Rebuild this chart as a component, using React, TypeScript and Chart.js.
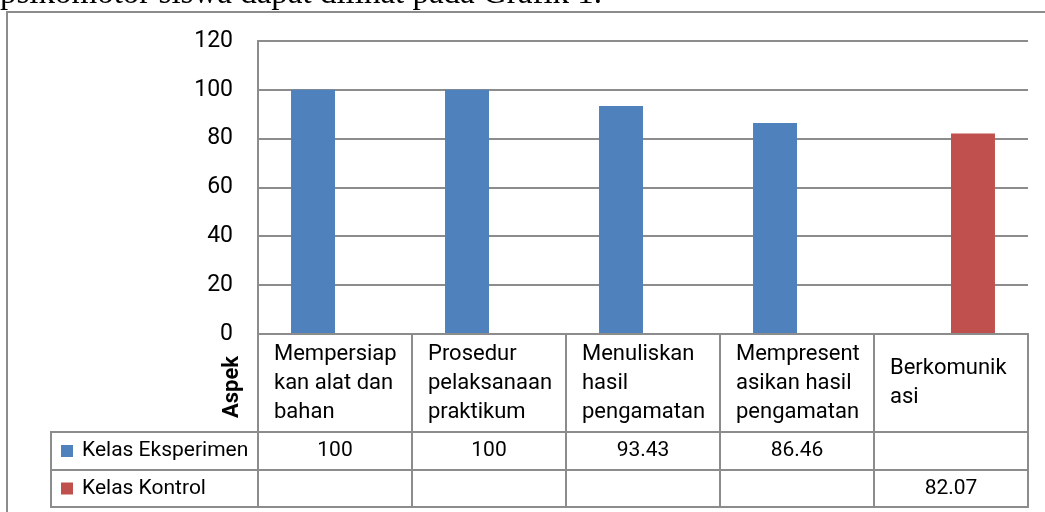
import React, { useEffect, useRef } from "react";
import { Chart, registerables } from "chart.js";

Chart.register(...registerables);

const caption = "psikomotor siswa dapat dilihat pada Grafik 1.";
const categoryLines: string[][] = [
  ["Mempersiap", "kan alat dan", "bahan"],
  ["Prosedur", "pelaksanaan", "praktikum"],
  ["Menuliskan", "hasil", "pengamatan"],
  ["Mempresent", "asikan hasil", "pengamatan"],
  ["Berkomunik", "asi"],
];
const categories = categoryLines.map((l) => l.join(" "));
const seriesNames = ["Kelas Eksperimen", "Kelas Kontrol"];
const eksperimen: (number | null)[] = [100, 100, 93.43, 86.46, null];
const kontrol: (number | null)[] = [null, null, null, null, 82.07];
const yTicks = [0, 20, 40, 60, 80, 100, 120];
const axisTitle = "Aspek";

const BLUE = "#4F81BD";
const RED = "#C0504D";
const GRID = "#8c8c8c";
const FONT = "Roboto";

const tablePlugin = {
  id: "dataTable",
  afterDraw(chart: any) {
    const ctx: CanvasRenderingContext2D = chart.ctx;
    const area = chart.chartArea;
    const xs = chart.scales.x;
    const n = categories.length;
    const cw = (area.right - area.left) / n;
    const top = area.bottom;
    const catBottom = top + 98;
    const row1Bottom = catBottom + 38;
    const row2Bottom = row1Bottom + 37;
    const legendLeft = 51;
    const series = [
      { name: seriesNames[0], color: BLUE, values: eksperimen },
      { name: seriesNames[1], color: RED, values: kontrol },
    ];

    ctx.save();
    ctx.strokeStyle = GRID;
    ctx.lineWidth = 2;
    const line = (x1: number, y1: number, x2: number, y2: number) => {
      ctx.beginPath();
      ctx.moveTo(x1, y1);
      ctx.lineTo(x2, y2);
      ctx.stroke();
    };
    // outer frame
    line(6, 12, chart.width, 12);
    line(7, 11, 7, chart.height);

    // table horizontal lines
    line(area.left - 1, top, area.right + 1, top);
    [catBottom, row1Bottom, row2Bottom].forEach((y) => line(legendLeft - 1, y, area.right + 1, y));
    // vertical lines
    for (let i = 0; i <= n; i++) {
      const x = area.left + i * cw;
      line(x, top, x, row2Bottom + 1);
    }
    line(legendLeft, catBottom, legendLeft, row2Bottom + 1);

    // category labels
    ctx.fillStyle = "#000";
    ctx.font = `22px ${FONT}`;
    ctx.textAlign = "left";
    ctx.textBaseline = "middle";
    const catCenter = (top + catBottom) / 2;
    categoryLines.forEach((lines, i) => {
      const cx = xs.getPixelForValue(i);
      const left = cx - cw / 2 + 16;
      const lh = 29;
      lines.forEach((t, j) => {
        ctx.fillText(t, left, catCenter - ((lines.length - 1) * lh) / 2 + j * lh);
      });
    });

    // series rows
    const rows = [
      [catBottom, row1Bottom],
      [row1Bottom, row2Bottom],
    ];
    series.forEach((s, r) => {
      const cy = (rows[r][0] + rows[r][1]) / 2;
      ctx.fillStyle = s.color;
      ctx.fillRect(61, cy - 6, 12, 12);
      ctx.fillStyle = "#000";
      ctx.font = `21px ${FONT}`;
      ctx.textAlign = "left";
      ctx.fillText(s.name, 82, cy);
      ctx.textAlign = "center";
      s.values.forEach((v, i) => {
        if (v === null) return;
        ctx.fillText(String(v), xs.getPixelForValue(i), cy);
      });
    });

    // axis title
    ctx.save();
    ctx.translate(232, 387);
    ctx.rotate(-Math.PI / 2);
    ctx.font = `bold 22px ${FONT}`;
    ctx.textAlign = "center";
    ctx.textBaseline = "middle";
    ctx.fillStyle = "#000";
    ctx.fillText(axisTitle, 0, 0);
    ctx.restore();

    ctx.restore();
  },
};

export default function App() {
  const ref = useRef<HTMLCanvasElement>(null);
  useEffect(() => {
    if (!ref.current) return;
    const chart = new Chart(ref.current, {
      type: "bar",
      data: {
        labels: categories,
        datasets: [
          { label: seriesNames[0], data: eksperimen, backgroundColor: BLUE },
          { label: seriesNames[1], data: kontrol, backgroundColor: RED },
        ],
      },
      options: {
        responsive: false,
        animation: false,
        layout: { padding: { left: 0, right: 17, top: 41, bottom: 178 } },
        datasets: { bar: { barPercentage: 1, categoryPercentage: 0.571 } },
        plugins: { legend: { display: false }, tooltip: { enabled: false } },
        scales: {
          x: { display: false },
          y: {
            min: yTicks[0],
            max: yTicks[yTicks.length - 1],
            afterFit: (scale: any) => {
              scale.width = 258;
            },
            ticks: {
              stepSize: 20,
              padding: 25,
              color: "#000",
              font: { family: FONT, size: 23 },
            },
            grid: { color: GRID, lineWidth: 2, drawTicks: false },
            border: { display: true, color: GRID, width: 2 },
          },
        },
      },
      plugins: [tablePlugin],
    } as any);
    return () => chart.destroy();
  }, []);

  return (
    <div style={{ position: "fixed", left: 0, top: 0, width: 1045, height: 512, overflow: "hidden", background: "#fff" }}>
      <canvas ref={ref} width={1045} height={512} style={{ position: "absolute", left: 0, top: 0 }} />
      <div
        style={{
          position: "absolute",
          left: 0,
          top: -24,
          margin: 0,
          fontFamily: "'Liberation Serif', 'Times New Roman', serif",
          fontSize: 33,
          lineHeight: "33px",
          whiteSpace: "nowrap",
          color: "#000",
        }}
      >
        {caption}
      </div>
    </div>
  );
}
